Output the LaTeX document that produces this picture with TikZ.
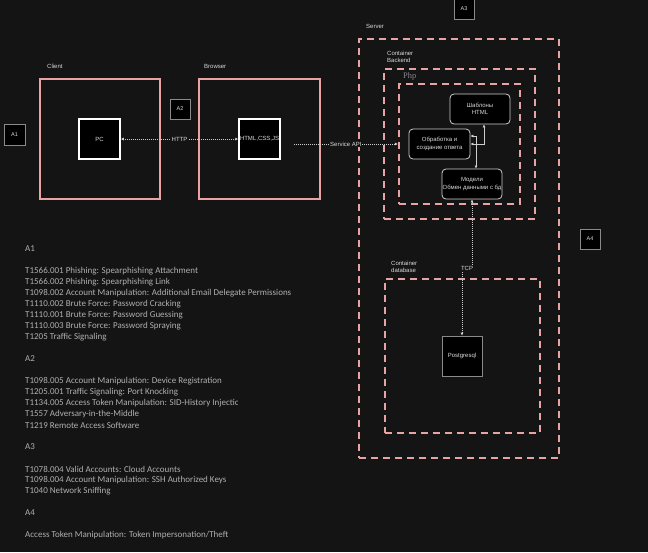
\documentclass[tikz,border=0pt]{standalone}
\usepackage{fontspec}
\setmainfont{Liberation Sans}
\newfontfamily\calfont{Carlito}
\newfontfamily\serfont{Liberation Serif}
\usetikzlibrary{arrows.meta}
\definecolor{bgc}{HTML}{141414}
\definecolor{pinkc}{HTML}{E8A4A4}
\definecolor{lblc}{HTML}{DADADA}
\definecolor{txtc}{HTML}{B0B0B0}
\definecolor{grayc}{HTML}{8A8A8A}
\definecolor{linec}{HTML}{CFCFCF}
\tikzset{
  pinkbox/.style={draw=pinkc, line width=1.6pt, inner sep=0pt},
  dashbox/.style={draw=pinkc, line width=2.4pt, dash pattern=on 7pt off 5pt, inner sep=0pt},
  whitebox/.style={draw=white, line width=1.5pt, fill=black, inner sep=0pt, text=lblc, font=\fontsize{6}{7}\selectfont},
  graybox/.style={draw=grayc, line width=0.9pt, fill=black, inner sep=0pt, text=lblc, font=\fontsize{6}{7}\selectfont},
  roundbox/.style={draw=linec, rounded corners=4pt, line width=0.8pt, fill=black, inner sep=0pt, text=lblc, align=center, font=\fontsize{6}{7.5}\selectfont},
  lbl/.style={text=lblc, inner sep=0pt, anchor=west, align=left, font=\fontsize{6}{7.5}\selectfont},
  clbl/.style={text=lblc, fill=bgc, inner sep=0.6pt, font=\fontsize{6}{7}\selectfont},
  conn/.style={draw=linec, line width=0.8pt, dash pattern=on 1pt off 1pt},
  solidconn/.style={draw=linec, line width=0.8pt},
  tip/.style={-{Latex[length=3pt,width=3pt]}},
  tips/.style={{Latex[length=3pt,width=3pt]}-{Latex[length=3pt,width=3pt]}},
  txt/.style={text=txtc, inner sep=0pt, anchor=west, font=\calfont\fontsize{9}{10}\selectfont},
}
\begin{document}
\begin{tikzpicture}[x=1pt,y=-1pt]
\fill[bgc] (0,0) rectangle (648,552);
\useasboundingbox (0,0) rectangle (648,552);

% client / browser
\node[pinkbox, minimum width=120pt, minimum height=120pt] (client) at (100,139) {};
\node[lbl] (clientl) at (47,66) {Client};
\node[whitebox, minimum width=41pt, minimum height=40pt] (pc) at (99.5,139) {PC};
\node[pinkbox, minimum width=121pt, minimum height=120pt] (browser) at (259.5,139) {};
\node[lbl] (browserl) at (204,66) {Browser};
\node[whitebox, minimum width=41pt, minimum height=40pt] (html) at (259.5,139) {HTML,CSS,JS};

\node[graybox, minimum width=21pt, minimum height=21pt, font=\fontsize{5.5}{6}\selectfont] (a1) at (14.5,134.5) {A1};
\node[graybox, minimum width=20pt, minimum height=20pt, font=\fontsize{5.5}{6}\selectfont] (a2) at (180,109) {A2};
\node[graybox, minimum width=20pt, minimum height=20pt, font=\fontsize{5.5}{6}\selectfont] (a3) at (464,9) {A3};
\node[graybox, minimum width=20pt, minimum height=20pt, font=\fontsize{5.5}{6}\selectfont] (a4) at (590,239) {A4};

% server
\node[dashbox, minimum width=200pt, minimum height=419pt] (server) at (459,248.5) {};
\node[lbl] (serverl) at (366,26) {Server};
\node[dashbox, minimum width=151pt, minimum height=150pt] (backend) at (459.5,144) {};
\node[lbl] (backendl) at (387,57) {Container\\Backend};
\node[dashbox, minimum width=121pt, minimum height=120pt] (php) at (459.5,144) {};
\node[inner sep=0pt, anchor=west, text=grayc, font=\serfont\fontsize{8.4}{9}\selectfont] (phpl) at (403,76) {Php};
\node[roundbox, minimum width=60pt, minimum height=30pt] (tmpl) at (480,109) {Шаблоны\\HTML};
\node[roundbox, minimum width=61pt, minimum height=30pt] (proc) at (439.5,144) {Обработка и\\создание ответа};
\node[roundbox, minimum width=60pt, minimum height=30pt] (model) at (472,184) {Модели\\Обмен данными с бд};

\node[dashbox, minimum width=155pt, minimum height=154pt] (dbcont) at (462.5,356) {};
\node[lbl] (dbl) at (391,267) {Container\\database};
\node[graybox, minimum width=40pt, minimum height=40pt] (pg) at (462,356) {Postgresql};

% connectors
\draw[conn, tips] (pc.east) -- node[clbl] (httpl) {HTTP} (html.west);
\coordinate (sapi) at (294,144);
\draw[conn, tip] (sapi) -- node[clbl] (sapil) {Service API} (php.west);
\coordinate (pm) at (476,136);
\draw[solidconn, tips] ([xshift=4pt]model.north) -- (pm) -- (proc.east |- pm);
\draw[solidconn, tips] (proc.east) -| ([xshift=4pt]tmpl.south);
\coordinate (tcpA) at (472,266);
\coordinate (tcpB) at (462,266);
\draw[conn, tips] (model.south) -- (tcpA) -- (tcpB) -- (pg.north);
\node[clbl] (tcpl) at (467,268) {TCP};

% text list
\node[txt] (t1) at (25,249) {A1};
\node[txt] (t2) at (25,271) {T1566.001 Phishing: Spearphishing Attachment};
\node[txt] (t3) at (25,282) {T1566.002 Phishing: Spearphishing Link};
\node[txt] (t4) at (25,293) {T1098.002 Account Manipulation: Additional Email Delegate Permissions};
\node[txt] (t5) at (25,304) {T1110.002 Brute Force: Password Cracking};
\node[txt] (t6) at (25,315) {T1110.001 Brute Force: Password Guessing};
\node[txt] (t7) at (25,326) {T1110.003 Brute Force: Password Spraying};
\node[txt] (t8) at (25,337) {T1205 Traffic Signaling};
\node[txt] (t9) at (25,359) {A2};
\node[txt] (t10) at (25,381) {T1098.005 Account Manipulation: Device Registration};
\node[txt] (t11) at (25,392) {T1205.001 Traffic Signaling: Port Knocking};
\begin{scope}
\clip (20,396) rectangle (237,410);
\node[txt] (t12) at (25,403) {T1134.005 Access Token Manipulation: SID-History Injection};
\end{scope}
\node[txt] (t13) at (25,414) {T1557 Adversary-in-the-Middle};
\node[txt] (t14) at (25,425) {T1219 Remote Access Software};
\node[txt] (t15) at (25,447) {A3};
\node[txt] (t16) at (25,469) {T1078.004 Valid Accounts: Cloud Accounts};
\node[txt] (t17) at (25,480) {T1098.004 Account Manipulation: SSH Authorized Keys};
\node[txt] (t18) at (25,491) {T1040 Network Sniffing};
\node[txt] (t19) at (25,513) {A4};
\node[txt] (t20) at (25,535) {Access Token Manipulation: Token Impersonation/Theft};
\end{tikzpicture}
\end{document}
